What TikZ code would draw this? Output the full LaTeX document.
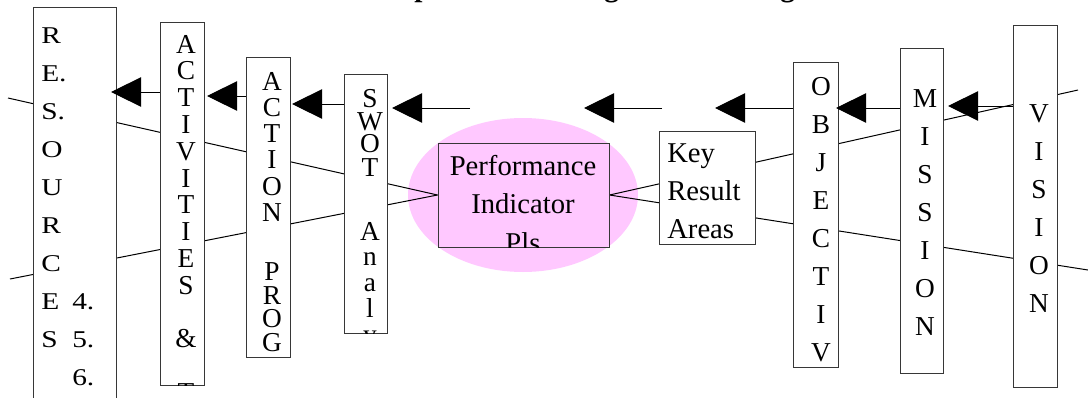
\documentclass[tikz,border=0pt]{standalone}
\usepackage{fontspec}
\setmainfont{Liberation Serif}
\usetikzlibrary{arrows.meta,fit,shapes.geometric,backgrounds}
\definecolor{pinkfill}{RGB}{255,200,255}
\definecolor{boxline}{RGB}{55,55,55}
\tikzset{
  vbox/.style={draw=boxline, line width=0.75pt, fill=white, inner sep=0pt},
  pbox/.style={draw=boxline, line width=0.75pt, inner sep=0pt},
  ell/.style={ellipse, fill=pinkfill, draw=none, inner sep=0pt, minimum width=172.5pt, minimum height=115.5pt},
  conn/.style={line width=0.75pt, black},
  flow/.style={line width=0.75pt, black, -{Triangle[length=22.5pt,width=22pt]}},
  letter/.style={font=\fontsize{20.5}{24}\selectfont, inner sep=0pt, anchor=base},
  lletter/.style={font=\fontsize{21}{24}\selectfont, inner sep=0pt, anchor=base west},
  ttl/.style={font=\bfseries\fontsize{22}{26}\selectfont, inner sep=0pt, anchor=base},
}
\newcommand\squash[1]{\scalebox{1.05}[0.86]{#1}}
\begin{document}
\begin{tikzpicture}[x=0.75pt,y=-0.75pt]
\useasboundingbox (0,0) rectangle (1088,397);
% title (only its lower part lies on the page)
\node[ttl] (title) at (544,-4) {Mission Specific Thinking into Planning};

% boxes
\node[vbox, fit={(33,7) (116,410)}] (res) {};
\node[vbox, fit={(160,22) (204,385)}] (act) {};
\node[vbox, fit={(246,57) (290,357)}] (acn) {};
\node[vbox, fit={(344,74) (387,333)}] (swot) {};
\node[pbox, fit={(438,143) (609,247)}] (pi) {};
\node[vbox, fit={(659,131) (755,244)}] (kra) {};
\node[vbox, fit={(793,62) (838,367)}] (obj) {};
\node[vbox, fit={(900,48) (943,373)}] (mis) {};
\node[vbox, fit={(1013,25) (1057,387)}] (vis) {};

% ellipse and converging lines behind the boxes
\coordinate (lu) at (8,98);
\coordinate (ll) at (10,279);
\coordinate (ru) at (1078,90);
\coordinate (rl) at (1088,270);
\begin{scope}[on background layer]
  \node[ell] (ell) at (523,195) {};
  \draw[conn] (lu) -- (pi.west);
  \draw[conn] (ll) -- (pi.west);
  \draw[conn] (pi.east) -- (ru);
  \draw[conn] (pi.east) -- (rl);
\end{scope}

% RESOURCES
\begin{scope}
  \clip (res.south west) rectangle (res.north east);
  \foreach \c/\yy [count=\i] in {R/43, E./81, S./119, O/157, U/195, R/233, C/271, E/309, S/347}
    \node[lletter] (res-\i) at (41,\yy) {\squash{\c}};
  \foreach \c/\yy [count=\i] in {4./309, 5./347, 6./385}
    \node[lletter] (resn-\i) at (72,\yy) {\squash{\c}};
\end{scope}

% ACTIVITIES & T
\begin{scope}
  \clip (act.south west) rectangle (act.north east);
  \foreach \c [count=\i] in {A,C,T,I,V,I,T,I,E,S,{},\&,{},T}
    \node[letter] (act-\i) at (186,{53+(\i-1)*26.8}) {\c};
\end{scope}

% ACTION PROG
\begin{scope}
  \clip (acn.south west) rectangle (acn.north east);
  \foreach \c/\yy [count=\i] in {A/90, C/116.25, T/142.5, I/168.75, O/195, N/221.25, P/280, R/304, O/327.5, G/351.5}
    \node[letter] (acn-\i) at (272,\yy) {\c};
\end{scope}

% SWOT Analysis
\begin{scope}
  \clip (swot.south west) rectangle (swot.north east);
  \foreach \c/\yy [count=\i] in {S/107, W/130, O/152.5, T/176, A/240, n/265, a/291, l/317, y/343}
    \node[letter] (swot-\i) at (370,\yy) {\c};
\end{scope}

% Performance Indicator PIs
\begin{scope}
  \clip (pi.south west) rectangle (pi.north east);
  \node[letter, font=\fontsize{21.5}{24}\selectfont] (pi-1) at (523,175) {Performance};
  \node[letter, font=\fontsize{21.5}{24}\selectfont] (pi-2) at (523,213.5) {Indicator};
  \node[letter, font=\fontsize{21.5}{24}\selectfont] (pi-3) at (523,252) {Pls};
\end{scope}

% Key Result Areas
\node[lletter, font=\fontsize{21.5}{24}\selectfont] (kra-1) at (667,162) {Key};
\node[lletter, font=\fontsize{21.5}{24}\selectfont] (kra-2) at (667,200) {Result};
\node[lletter, font=\fontsize{21.5}{24}\selectfont] (kra-3) at (667,238) {Areas};

% OBJECTIVE
\begin{scope}
  \clip (obj.south west) rectangle (obj.north east);
  \foreach \c [count=\i] in {O,B,J,E,C,T,I,V,E}
    \node[letter] (obj-\i) at (821,{95+(\i-1)*38.1}) {\c};
\end{scope}

% MISSION
\begin{scope}
  \clip (mis.south west) rectangle (mis.north east);
  \foreach \c [count=\i] in {M,I,S,S,I,O,N}
    \node[letter] (mis-\i) at (925,{107+(\i-1)*38.1}) {\c};
\end{scope}

% VISION
\begin{scope}
  \clip (vis.south west) rectangle (vis.north east);
  \foreach \c [count=\i] in {V,I,S,I,O,N}
    \node[letter] (vis-\i) at (1039,{122+(\i-1)*38}) {\c};
\end{scope}

% arrows along the top
\coordinate (t1) at (111,92);
\coordinate (t2) at (207,96);
\coordinate (t3) at (292,104);
\coordinate (s4) at (470,108);
\coordinate (t4) at (392,108);
\coordinate (s5) at (662,108);
\coordinate (t5) at (584,108);
\coordinate (t6) at (715,108);
\coordinate (t7) at (836,108);
\coordinate (t8) at (948,106);
\draw[flow] (act.west |- t1) -- (t1);
\draw[flow] (acn.west |- t2) -- (t2);
\draw[flow] (swot.west |- t3) -- (t3);
\draw[flow] (s4) -- (t4);
\draw[flow] (s5) -- (t5);
\draw[flow] (obj.west |- t6) -- (t6);
\draw[flow] (mis.west |- t7) -- (t7);
\draw[flow] (vis.west |- t8) -- (t8);
\end{tikzpicture}
\end{document}
